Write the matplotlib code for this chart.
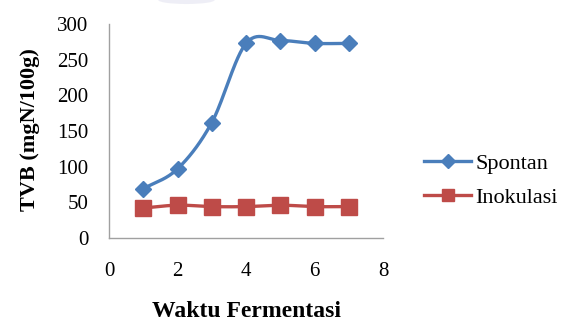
import numpy as np
import matplotlib
matplotlib.use("Agg")
import matplotlib.pyplot as plt
from matplotlib.patches import Ellipse

waktu = [1, 2, 3, 4, 5, 6, 7]
spontan = [69, 97, 162, 273, 277, 273, 273]
inokulasi = [42, 46, 44, 44, 46, 44, 44]

BLUE = "#4A7EBB"
RED = "#BE4B48"


def smooth(x, y, n=30):
    # Catmull-Rom spline, like Excel's smoothed line
    x = np.asarray(x, float)
    y = np.asarray(y, float)
    px = np.concatenate([[2 * x[0] - x[1]], x, [2 * x[-1] - x[-2]]])
    py = np.concatenate([[2 * y[0] - y[1]], y, [2 * y[-1] - y[-2]]])
    xs, ys = [], []
    t = np.linspace(0, 1, n)
    for i in range(1, len(px) - 2):
        for p, out in ((px, xs), (py, ys)):
            p0, p1, p2, p3 = p[i - 1], p[i], p[i + 1], p[i + 2]
            out.extend(0.5 * ((2 * p1) + (-p0 + p2) * t
                              + (2 * p0 - 5 * p1 + 4 * p2 - p3) * t ** 2
                              + (-p0 + 3 * p1 - 3 * p2 + p3) * t ** 3))
    return xs, ys


plt.rcParams["font.family"] = ["Liberation Serif", "DejaVu Serif"]

fig = plt.figure(figsize=(5.65, 3.22), dpi=100)

# faint watermark blob at the top edge
fig.patches.append(Ellipse((0.33, 1.0), 0.1, 0.025, transform=fig.transFigure,
                           facecolor="#E4E4F0", edgecolor="none", alpha=0.6))

ax = fig.add_axes([0.193, 0.261, 0.485, 0.664])

sx, sy = smooth(waktu, spontan)
ax.plot(sx, sy, color=BLUE, lw=2.4, zorder=2)
ax.plot(waktu, spontan, ls="none", marker="D", ms=8.5, color=BLUE, zorder=3)
ix, iy = smooth(waktu, inokulasi)
ax.plot(ix, iy, color=RED, lw=2.4, zorder=2)
ax.plot(waktu, inokulasi, ls="none", marker="s", ms=11, color=RED, zorder=3)

ax.plot([], [], color=BLUE, lw=2.4, marker="D", ms=7, label="Spontan")
ax.plot([], [], color=RED, lw=2.4, marker="s", ms=9, label="Inokulasi")

ax.set_xlim(0, 8)
ax.set_ylim(0, 300)
ax.set_xticks([0, 2, 4, 6, 8])
ax.set_yticks(range(0, 301, 50))
ax.tick_params(length=0, labelsize=15)
ax.tick_params(axis="x", pad=17)
ax.tick_params(axis="y", pad=15)
for s in ["top", "right"]:
    ax.spines[s].set_visible(False)
for s in ["left", "bottom"]:
    ax.spines[s].set_color("#A0A0A0")
    ax.spines[s].set_linewidth(1)

ax.set_ylabel("TVB (mgN/100g)", fontsize=16, fontweight="bold")
ax.yaxis.set_label_coords(-0.252, 0.505)
fig.text(0.436, 0.016, "Waktu Fermentasi", fontsize=17, fontweight="bold",
         ha="center", va="baseline")

handles, labels = ax.get_legend_handles_labels()
fig.legend(handles[-2:], labels[-2:], loc="center left",
           bbox_to_anchor=(0.751, 0.44), frameon=False, fontsize=16,
           handlelength=2.1, handletextpad=0.2, labelspacing=0.6,
           borderaxespad=0, borderpad=0)

fig.savefig("out.png", dpi=100)
